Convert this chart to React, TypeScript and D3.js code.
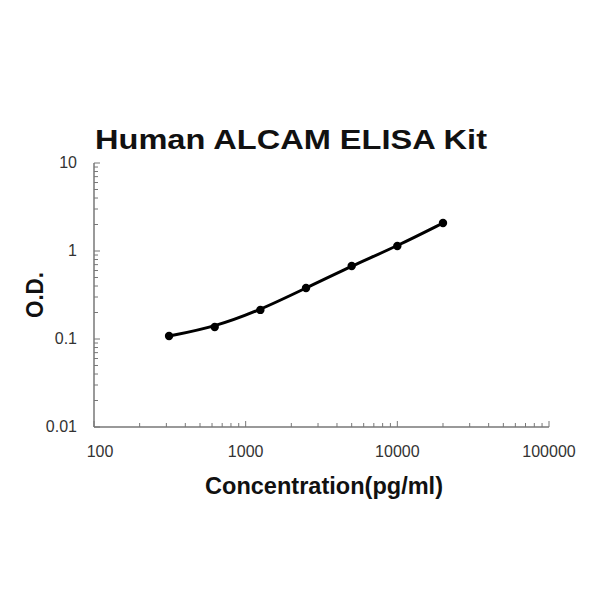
import React from "react";
import * as d3 from "d3";

const concentrations = [312.5, 625, 1250, 2500, 5000, 10000, 20000];
const odValues = [0.108, 0.137, 0.214, 0.38, 0.675, 1.14, 2.08];
const xTickValues = [100, 1000, 10000, 100000];
const yTickValues = [0.01, 0.1, 1, 10];
const title = "Human ALCAM ELISA Kit";
const xLabel = "Concentration(pg/ml)";
const yLabel = "O.D.";

export default function App() {
  const x = d3.scaleLog().domain([100, 100000]).range([94, 549]);
  const y = d3.scaleLog().domain([0.01, 10]).range([427, 163]);

  const xMinor: number[] = [];
  for (let d = 100; d < 100000; d *= 10) for (let k = 2; k <= 9; k++) xMinor.push(d * k);
  const yMinor: number[] = [];
  for (let d = 0.01; d < 9; d *= 10) for (let k = 2; k <= 9; k++) yMinor.push(d * k);

  const pts = concentrations.map((c, i) => [x(c), y(odValues[i])] as [number, number]);
  const line = d3.line().curve(d3.curveBasis)(pts) || "";
  const axisColor = "#777";
  const tickFont = "Liberation Sans, Arial, sans-serif";
  const boldFont = "Liberation Sans, Arial, sans-serif";

  return (
    <svg width={600} height={600} style={{ position: "absolute", left: 0, top: 0, background: "#fff" }}>
      <text x={291} y={149} textAnchor="middle" fontFamily={boldFont} fontWeight="bold" fontSize={28} fill="#111" textLength={392} lengthAdjust="spacingAndGlyphs">{title}</text>
      <line x1={x(100)} x2={x(100000)} y1={427} y2={427} stroke={axisColor} strokeWidth={1.5} />
      <line x1={94} x2={94} y1={y(10)} y2={y(0.01)} stroke={axisColor} strokeWidth={1.5} />
      {xMinor.map((v, i) => (
        <line key={"xm" + i} x1={x(v)} x2={x(v)} y1={427} y2={423} stroke={axisColor} strokeWidth={1} />
      ))}
      {xTickValues.map((v, i) => (
        <g key={"xt" + i}>
          <line x1={x(v)} x2={x(v)} y1={427} y2={421} stroke={axisColor} strokeWidth={1} />
          <text x={x(v) + (i === 0 ? 6 : 0)} y={457} textAnchor="middle" fontFamily={tickFont} fontSize={16} fill="#333">{v}</text>
        </g>
      ))}
      {yMinor.map((v, i) => (
        <line key={"ym" + i} x1={94} x2={98} y1={y(v)} y2={y(v)} stroke={axisColor} strokeWidth={1} />
      ))}
      {yTickValues.map((v, i) => (
        <g key={"yt" + i}>
          <line x1={94} x2={100} y1={y(v)} y2={y(v)} stroke={axisColor} strokeWidth={1} />
          <text x={77} y={y(v) + 5} textAnchor="end" fontFamily={tickFont} fontSize={16} fill="#333">{v}</text>
        </g>
      ))}
      <path d={line} fill="none" stroke="#000" strokeWidth={3} />
      {pts.map((p, i) => (
        <circle key={"p" + i} cx={p[0]} cy={p[1]} r={4.2} fill="#000" />
      ))}
      <text x={324} y={494} textAnchor="middle" fontFamily={boldFont} fontWeight="bold" fontSize={24} fill="#111" textLength={238} lengthAdjust="spacingAndGlyphs">{xLabel}</text>
      <text transform={`translate(43,295) rotate(-90)`} textAnchor="middle" fontFamily={boldFont} fontWeight="bold" fontSize={23} fill="#111" textLength={46} lengthAdjust="spacingAndGlyphs">{yLabel}</text>
    </svg>
  );
}
